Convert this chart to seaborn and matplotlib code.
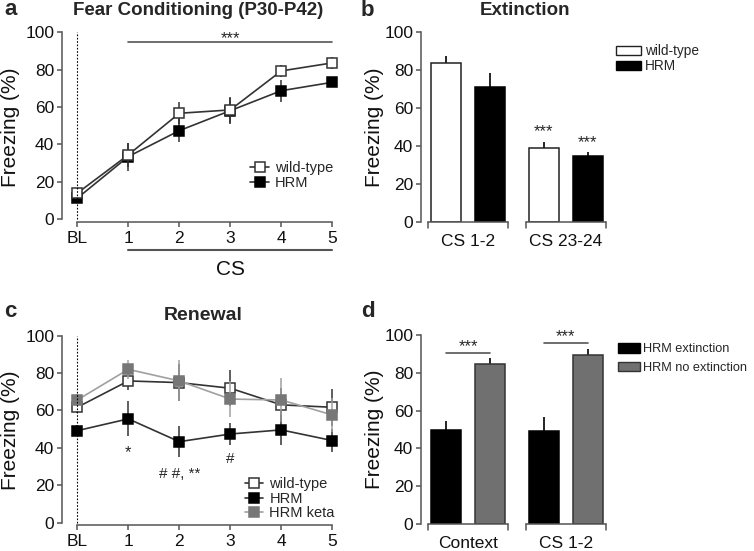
import numpy as np
import pandas as pd
import matplotlib
matplotlib.use("Agg")
import matplotlib.pyplot as plt
from matplotlib.patches import Patch
import seaborn as sns

sns.set_style("ticks")
plt.rcParams['font.family'] = ['Liberation Sans', 'DejaVu Sans']

# a. fear conditioning
trials = ["BL", "1", "2", "3", "4", "5"]
fc_wt = [13.8, 34.3, 56.6, 58.4, 79.3, 83.6]
fc_wt_err = [2, 6.5, 6, 7, 3, 3]
fc_hrm = [11.1, 33.4, 47.3, 58.0, 68.7, 73.2]
fc_hrm_err = [2, 7.5, 6, 7, 6, 2]

# b. extinction
ext_groups = ["CS 1-2", "CS 23-24"]
ext_wt = [83.6, 38.8]
ext_wt_err = [3.9, 3.3]
ext_hrm = [71.3, 34.7]
ext_hrm_err = [7.4, 1.9]

# c. renewal
ren_wt = [61.7, 75.8, 74.9, 71.9, 63.0, 61.7]
ren_wt_err = [3, 5, 10, 9.5, 9, 10]
ren_hrm = [49.2, 55.5, 43.3, 47.4, 49.6, 43.9]
ren_hrm_err = [3, 9.3, 8.2, 6, 8, 6]
ren_keta = [65.6, 82.0, 75.8, 66.1, 65.6, 57.6]
ren_keta_err = [3, 5, 11, 9.4, 12, 9]

# d. HRM extinction vs no extinction
d_groups = ["Context", "CS 1-2"]
d_ext = [49.7, 49.0]
d_ext_err = [4.6, 7.8]
d_noext = [84.6, 89.4]
d_noext_err = [3.0, 3.0]

SPINE = "#555555"
W, H = 754, 551

fig = plt.figure(figsize=(7.54, 5.51), dpi=100)


def px_axes(left, top, right, bottom):
    return fig.add_axes([left / W, 1 - bottom / H, (right - left) / W, (bottom - top) / H])


def style_axis(ax):
    for s in ["top", "right"]:
        ax.spines[s].set_visible(False)
    for s in ["left", "bottom"]:
        ax.spines[s].set_color(SPINE)
        ax.spines[s].set_linewidth(1.1)
    ax.tick_params(colors=SPINE, labelcolor="#111111", labelsize=12.5, length=3.5, width=1.1)
    ax.tick_params(axis="y", pad=2)
    ax.set_yticks([0, 20, 40, 60, 80, 100])
    ax.spines["left"].set_bounds(0, 100)
    ax.set_ylabel("Freezing (%)", fontsize=15, color="#111111")


def line_panel(ax, series):
    x = np.arange(len(trials))
    for name, vals, errs, face, edge, lcol in series:
        ax.errorbar(x, vals, yerr=errs, fmt="none", ecolor=lcol, elinewidth=1.1,
                    capsize=0, clip_on=False)
        sns.lineplot(x=x, y=vals, ax=ax, color=lcol, lw=1.2, marker="s", markersize=7.5,
                     markerfacecolor=face, markeredgecolor=edge, markeredgewidth=1.1,
                     label=name, errorbar=None, clip_on=False)
    ax.vlines(0, 0, 100, colors="black", linestyles=(0, (1.5, 1.5)), lw=0.8)
    ax.set_xlim(-0.3, 5.25)
    ax.set_ylim(-1.5, 100)
    ax.set_xticks(x)
    ax.set_xticklabels(trials)
    style_axis(ax)
    ax.spines["bottom"].set_bounds(0, 5)
    ax.tick_params(axis="x", pad=3)
    ax.yaxis.set_label_coords(-0.15, 0.5)


def bar_panel(ax, groups, names, vals, errs, colors, edges):
    df = pd.DataFrame({
        "group": groups * 2,
        "cond": [names[0]] * 2 + [names[1]] * 2,
        "value": vals[0] + vals[1],
    })
    sns.barplot(data=df, x="group", y="value", hue="cond", hue_order=names,
                palette=dict(zip(names, colors)), width=0.9, gap=0.32,
                errorbar=None, legend=False, ax=ax)
    err_lookup = dict(zip(vals[0] + vals[1], errs[0] + errs[1]))
    tops = {}
    for p in ax.patches:
        h = p.get_height()
        for v, e in err_lookup.items():
            if np.isclose(h, v):
                cx = p.get_x() + p.get_width() / 2
                ax.errorbar([cx], [h], yerr=[[0], [e]], fmt="none", ecolor="black",
                            elinewidth=1.2, capsize=0, zorder=1)
                tops[v] = (cx, h + e)
        face = p.get_facecolor()
        idx = 0 if np.allclose(face[:3], matplotlib.colors.to_rgb(colors[0])) else 1
        p.set_edgecolor(edges[idx])
        p.set_linewidth(1.1)
        p.set_zorder(2)
    ax.set_xlim(-0.48, 1.45)
    ax.set_ylim(0, 100)
    style_axis(ax)
    ax.spines["bottom"].set_visible(False)
    ax.tick_params(axis="x", length=0, pad=9)
    ax.set_xlabel("")
    # group brackets along the base line
    for c in range(len(groups)):
        ax.plot([c - 0.41, c + 0.41], [0, 0], color=SPINE, lw=1.1, clip_on=False)
        for e in (c - 0.41, c + 0.41):
            ax.plot([e, e], [0, -3.2], color=SPINE, lw=1.1, clip_on=False)
    ax.yaxis.set_label_coords(-0.195, 0.5)
    return tops


# panel a
ax_a = px_axes(62, 32.3, 345, 221.7)
line_panel(ax_a, [
    ("HRM", fc_hrm, fc_hrm_err, "black", "black", "#333333"),
    ("wild-type", fc_wt, fc_wt_err, "white", "#333333", "#333333"),
])
h, l = ax_a.get_legend_handles_labels()
ax_a.legend([h[1], h[0]], [l[1], l[0]], loc="upper left", bbox_to_anchor=(0.665, 0.32),
            frameon=False, fontsize=10.5, handlelength=1.3, handletextpad=0.4,
            labelspacing=0.05, borderpad=0, borderaxespad=0)
ax_a.plot([1, 5], [94.8, 94.8], color=SPINE, lw=1.2, clip_on=False)
ax_a.text(3, 94.3, "***", ha="center", va="baseline", fontsize=12)
ax_a.plot([1, 5], [-16.5, -16.5], color=SPINE, lw=1.5, clip_on=False)
ax_a.text(3, -22, "CS", ha="center", va="top", fontsize=15, color="#111111")

# panel b
ax_b = px_axes(421, 32.3, 610, 221.7)
tops_b = bar_panel(ax_b, ext_groups, ["wild-type", "HRM"], [ext_wt, ext_hrm],
                   [ext_wt_err, ext_hrm_err], ["white", "black"], ["#222222", "black"])
for v in (ext_wt[1], ext_hrm[1]):
    cx, top = tops_b[v]
    ax_b.text(cx, top + 3, "***", ha="center", va="baseline", fontsize=12)
fig.legend(handles=[Patch(facecolor="white", edgecolor="#222222", lw=1.0, label="wild-type"),
                    Patch(facecolor="black", edgecolor="black", lw=1.0, label="HRM")],
           loc="upper left", bbox_to_anchor=(616 / W, 1 - 44 / H), frameon=False,
           fontsize=9.8, handlelength=1.85, handleheight=0.6, handletextpad=0.25,
           labelspacing=0.08, borderpad=0, borderaxespad=0)

# panel c
ax_c = px_axes(62, 335.7, 345, 525.4)
line_panel(ax_c, [
    ("HRM", ren_hrm, ren_hrm_err, "black", "black", "#333333"),
    ("wild-type", ren_wt, ren_wt_err, "white", "#333333", "#333333"),
    ("HRM keta", ren_keta, ren_keta_err, "#777777", "#777777", "#a0a0a0"),
])
h, l = ax_c.get_legend_handles_labels()
ax_c.legend([h[1], h[0], h[2]], [l[1], l[0], l[2]], loc="upper left",
            bbox_to_anchor=(0.645, 0.255), frameon=False, fontsize=10.5,
            handlelength=1.3, handletextpad=0.4, labelspacing=0.05,
            borderpad=0, borderaxespad=0)
ax_c.text(1, 35, "*", ha="center", va="baseline", fontsize=12)
ax_c.text(2, 26, "# #, **", ha="center", va="center", fontsize=11)
ax_c.text(3, 34, "#", ha="center", va="center", fontsize=11)

# panel d
ax_d = px_axes(421, 335, 610, 524)
bar_panel(ax_d, d_groups, ["HRM extinction", "HRM no extinction"], [d_ext, d_noext],
          [d_ext_err, d_noext_err], ["black", "#707070"], ["black", "#333333"])
bars_d = sorted([p for p in ax_d.patches if p.get_height() > 0], key=lambda p: p.get_x())
for i, ly in enumerate([90.6, 95.9]):
    left, right = bars_d[2 * i], bars_d[2 * i + 1]
    x0 = left.get_x() + left.get_width() / 2
    x1 = right.get_x() + right.get_width() / 2
    ax_d.plot([x0, x1], [ly, ly], color=SPINE, lw=1.2, clip_on=False)
    ax_d.text((x0 + x1) / 2, ly + 1.0, "***", ha="center", va="baseline", fontsize=12)
fig.legend(handles=[Patch(facecolor="black", edgecolor="black", lw=1.0, label="HRM extinction"),
                    Patch(facecolor="#707070", edgecolor="#333333", lw=1.0,
                          label="HRM no extinction")],
           loc="upper left", bbox_to_anchor=(618 / W, 1 - 343 / H), frameon=False,
           fontsize=9.2, handlelength=1.75, handleheight=0.8, handletextpad=0.2,
           labelspacing=0.5, borderpad=0, borderaxespad=0)

# titles and panel letters
fig.text(198.5 / W, 1 - 15 / H, "Fear Conditioning (P30-P42)", ha="center", va="baseline",
         fontsize=13.5, fontweight="bold")
fig.text(525 / W, 1 - 15 / H, "Extinction", ha="center", va="baseline",
         fontsize=13.5, fontweight="bold")
fig.text(203 / W, 1 - 320 / H, "Renewal", ha="center", va="baseline",
         fontsize=14, fontweight="bold")
for letter, x, y in [("a", 4, 15), ("b", 361, 16), ("c", 4, 317), ("d", 361, 317)]:
    fig.text(x / W, 1 - y / H, letter, ha="left", va="baseline", fontsize=16,
             fontweight="bold")

fig.savefig("out.png", dpi=100)
